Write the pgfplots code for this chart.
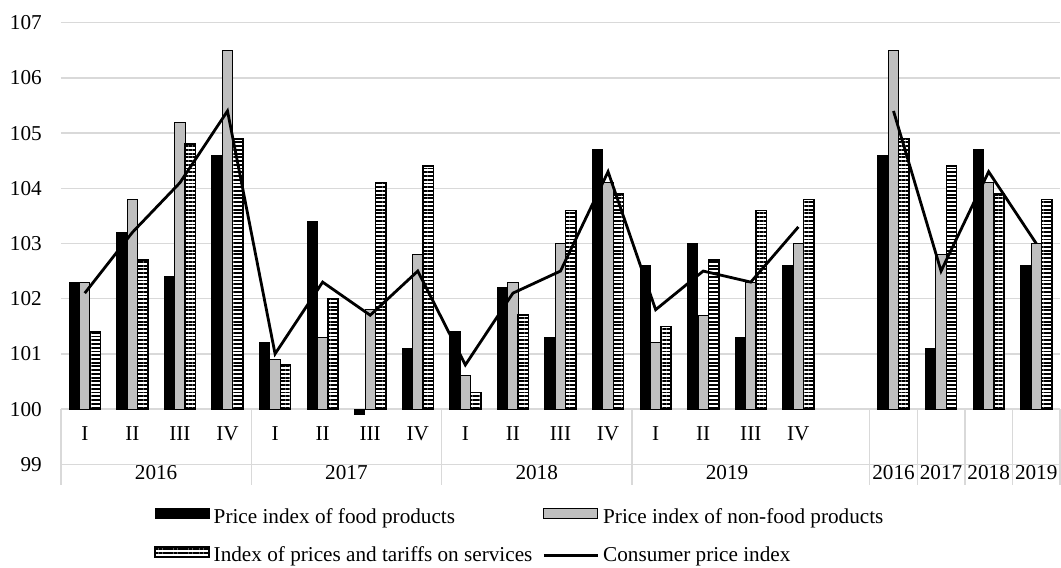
\documentclass[border=0pt]{standalone}
\usepackage{fontspec}
\setmainfont{Liberation Serif}
\usepackage{pgfplots}
\usepackage{pgfplotstable}
\pgfplotsset{compat=1.18}
\usetikzlibrary{patterns.meta}

\definecolor{gridgray}{RGB}{217,217,217}
\definecolor{nonfood}{RGB}{191,191,191}
\newcommand{\cf}{\fontsize{15.9pt}{19pt}\selectfont}

% quarters 0-15, annual values 17-20 (16 is the empty slot)
\pgfplotstableread{
i  food   nonfood services cpi
0  102.3  102.3   101.4    102.1
1  103.2  103.8   102.7    103.2
2  102.4  105.2   104.8    104.1
3  104.6  106.5   104.9    105.4
4  101.2  100.9   100.8    101.0
5  103.4  101.3   102.0    102.3
6  99.9   101.8   104.1    101.7
7  101.1  102.8   104.4    102.5
8  101.4  100.6   100.3    100.8
9  102.2  102.3   101.7    102.1
10 101.3  103.0   103.6    102.5
11 104.7  104.1   103.9    104.3
12 102.6  101.2   101.5    101.8
13 103.0  101.7   102.7    102.5
14 101.3  102.3   103.6    102.3
15 102.6  103.0   103.8    103.3
17 104.6  106.5   104.9    105.4
18 101.1  102.8   104.4    102.5
19 104.7  104.1   103.9    104.3
20 102.6  103.0   103.8    103.0
}\cpidata

\pgfplotsset{
  barbox/.style={legend image code/.code={\draw[##1] (0pt,-0.75pt) rectangle (40.5pt,6.75pt);}},
  stripebox/.style={legend image code/.code={
      \fill[white] (0pt,-0.75pt) rectangle (40.5pt,6.75pt);
      \draw[##1] (0pt,-0.75pt) rectangle (40.5pt,6.75pt);}},
  linebox/.style={legend image code/.code={\draw[##1] (0pt,0pt) -- (40.5pt,0pt);}},
}

\begin{document}
\begin{tikzpicture}
\path[use as bounding box] (0pt,0pt) rectangle (795.75pt,-426pt);
\begin{axis}[
    at={(45.75pt,-17pt)}, anchor=north west,
    scale only axis,
    width=749.25pt, height=331.2pt,
    xmin=-0.5, xmax=20.5,
    ymin=-1, ymax=7,
    xtick=\empty,
    ytick={-1,0,...,7},
    yticklabels={99,100,101,102,103,104,105,106,107},
    yticklabel style={font=\cf, anchor=east, inner sep=0pt, xshift=-14.25pt},
    ymajorgrids,
    major grid style={gridgray, line width=1pt},
    axis line style={draw=none},
    major tick length=0pt,
    clip=false,
    legend columns=2,
    legend cell align=left,
    legend style={
        at={(0.0931,-0.0965)}, anchor=north west,
        draw=none, fill=none, inner sep=0pt,
        font=\cf,
        nodes={inner xsep=0pt, inner ysep=0pt, text height=12pt, text depth=3pt},
        row sep=14pt,
        /tikz/every odd column/.append style={column sep=3pt},
        /tikz/every even column/.append style={column sep=7.5pt},
    },
]

% category axis: line at 100, group separators
\draw[gridgray, line width=1.2pt] (axis cs:-0.5,0) -- (axis cs:20.5,0);
\pgfplotsinvokeforeach{-0.5,3.5,7.5,11.5,16.5,17.5,18.5,19.5,20.5}{
  \draw[gridgray, line width=1pt] (axis cs:#1,0) -- (axis cs:#1,-1.37);
}

\addplot[ybar, bar width=7.75pt, bar shift=-7.8pt, fill=black, draw=black,
    line width=0.75pt, barbox]
    table[x=i, y expr=\thisrow{food}-100] {\cpidata};
\addlegendentry{Price index of food products}

\addplot[ybar, bar width=7.75pt, bar shift=0pt, fill=nonfood, draw=black,
    line width=0.75pt, barbox]
    table[x=i, y expr=\thisrow{nonfood}-100] {\cpidata};
\addlegendentry{Price index of non-food products}

\addplot[ybar, bar width=7.75pt, bar shift=7.8pt, fill=white, draw=none, forget plot]
    table[x=i, y expr=\thisrow{services}-100] {\cpidata};
\addplot[ybar, bar width=7.75pt, bar shift=7.8pt, draw=black, line width=1.1pt,
    pattern={Lines[angle=0, distance=2.8pt, line width=1.4pt]}, pattern color=black,
    stripebox]
    table[x=i, y expr=\thisrow{services}-100] {\cpidata};
\addlegendentry{Index of prices and tariffs on services}

\addplot[black, line width=2.1pt, restrict x to domain=0:15, linebox]
    table[x=i, y expr=\thisrow{cpi}-100] {\cpidata};
\addlegendentry{Consumer price index}
\addplot[black, line width=2.1pt, restrict x to domain=17:20, forget plot]
    table[x=i, y expr=\thisrow{cpi}-100] {\cpidata};

% quarter and year labels
\node[font=\cf] at (axis cs:0,-0.451) {I};
\node[font=\cf] at (axis cs:1,-0.451) {II};
\node[font=\cf] at (axis cs:2,-0.451) {III};
\node[font=\cf] at (axis cs:3,-0.451) {IV};
\node[font=\cf] at (axis cs:4,-0.451) {I};
\node[font=\cf] at (axis cs:5,-0.451) {II};
\node[font=\cf] at (axis cs:6,-0.451) {III};
\node[font=\cf] at (axis cs:7,-0.451) {IV};
\node[font=\cf] at (axis cs:8,-0.451) {I};
\node[font=\cf] at (axis cs:9,-0.451) {II};
\node[font=\cf] at (axis cs:10,-0.451) {III};
\node[font=\cf] at (axis cs:11,-0.451) {IV};
\node[font=\cf] at (axis cs:12,-0.451) {I};
\node[font=\cf] at (axis cs:13,-0.451) {II};
\node[font=\cf] at (axis cs:14,-0.451) {III};
\node[font=\cf] at (axis cs:15,-0.451) {IV};
\node[font=\cf] at (axis cs:1.5,-1.158) {2016};
\node[font=\cf] at (axis cs:5.5,-1.158) {2017};
\node[font=\cf] at (axis cs:9.5,-1.158) {2018};
\node[font=\cf] at (axis cs:13.5,-1.158) {2019};
\node[font=\cf] at (axis cs:17,-1.158) {2016};
\node[font=\cf] at (axis cs:18,-1.158) {2017};
\node[font=\cf] at (axis cs:19,-1.158) {2018};
\node[font=\cf] at (axis cs:20,-1.158) {2019};

\end{axis}
\end{tikzpicture}
\end{document}
